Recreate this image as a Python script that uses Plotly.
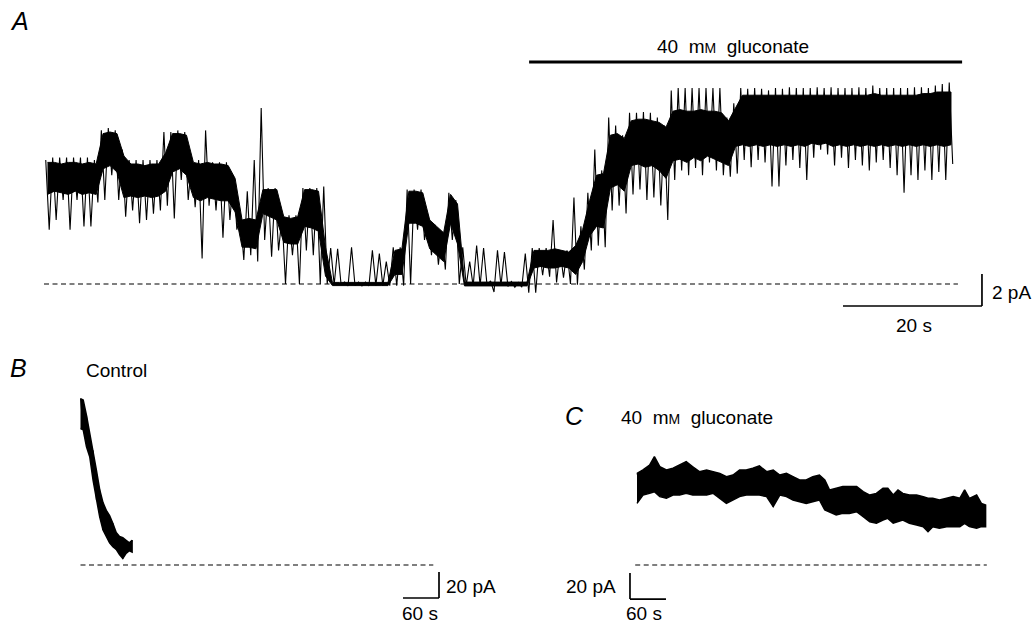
import numpy as np
import plotly.graph_objects as go

# ---------------- Panel A: single-channel record, 1 s bins (pA) ----------------
# extreme excursions within each bin
A_top = [7.75, 7.9, 7.9, 7.9, 7.9, 7.9, 7.9, 7.75, 9.6, 9.75,
         9.6, 8.4, 7.75, 7.75, 7.75, 7.75, 7.75, 9.5, 9.5, 9.6,
         9.5, 7.75, 7.75, 9.6, 7.6, 7.6, 7.6, 6.8, 4.2, 5.8,
         7.75, 11.0, 6.0, 6.0, 4.2, 4.3, 4.3, 6.0, 6.0, 6.0,
         6.1, 2.25, 2.2, 0.12, 2.3, 0.12, 0.12, 2.1, 1.9, 1.4,
         2.3, 2.3, 5.9, 5.9, 5.9, 4.3, 3.7, 3.25, 5.7, 5.25,
         2.3, 1.4, 2.4, 2.25, 0.2, 2.1, 2.0, 0.15, 0.1, 1.9,
         2.25, 2.25, 2.25, 4.0, 2.1, 2.1, 5.4, 3.6, 5.7, 8.4,
         7.1, 10.4, 9.9, 9.3, 10.7, 10.7, 10.75, 10.7, 10.4, 9.9,
         12.1, 12.25, 12.25, 12.25, 12.25, 12.25, 12.25, 12.25, 10.4, 11.3,
         12.25, 12.2, 12.25, 12.2, 12.1, 12.25, 12.2, 12.3, 12.25, 12.25,
         12.25, 12.3, 12.25, 12.3, 12.25, 12.25, 12.25, 12.3, 12.25, 12.4,
         12.25, 12.25, 12.25, 12.25, 12.25, 12.3, 12.3, 12.25, 12.4, 12.5,
         12.6]
A_bot = [3.4, 4.0, 5.25, 3.4, 5.25, 3.6, 3.6, 5.1, 5.25, 6.8,
         5.25, 4.2, 4.6, 3.8, 4.0, 4.4, 4.6, 4.9, 4.1, 6.5,
         5.25, 4.8, 1.6, 4.9, 4.6, 2.9, 4.0, 3.4, 1.5, 1.8,
         1.4, 2.75, 1.7, 2.1, 0.0, 1.8, 0.0, 2.1, 1.8, 0.0,
         0.0, -0.05, -0.05, -0.12, -0.1, -0.12, -0.12, -0.1, -0.1, -0.1,
         -0.1, -0.1, 0.0, 3.4, 2.75, 1.8, 1.2, 0.9, 2.75, 0.0,
         -0.1, -0.12, -0.1, -0.1, -0.5, -0.1, -0.15, -0.2, -0.2, -0.55,
         -0.55, 0.55, 0.45, 0.1, 0.4, 0.0, -0.05, 0.9, 2.1, 2.4,
         2.3, 4.6, 4.9, 4.4, 5.6, 5.9, 5.25, 5.4, 4.9, 4.0,
         6.5, 7.1, 6.8, 7.25, 6.8, 7.6, 7.1, 6.8, 6.7, 6.9,
         7.75, 7.3, 7.75, 7.6, 6.1, 6.1, 7.4, 7.75, 7.25, 6.5,
         7.9, 8.4, 8.1, 7.4, 7.9, 7.25, 7.75, 7.4, 7.1, 7.6,
         7.75, 7.25, 6.8, 5.7, 6.8, 6.5, 7.1, 6.5, 7.0, 6.5,
         7.5]
# dense core of the noise band within each bin
A_core_hi = [7.6, 7.6, 7.5, 7.6, 7.6, 7.5, 7.6, 7.5, 9.4, 9.5,
             9.4, 8.0, 7.5, 7.5, 7.4, 7.5, 7.5, 8.2, 9.4, 9.4,
             9.3, 7.6, 7.5, 7.6, 7.5, 7.5, 7.4, 6.6, 4.0, 4.1,
             4.0, 5.9, 5.9, 5.9, 4.2, 4.1, 4.2, 5.9, 5.9, 5.8,
             2.3, 0.1, 0.1, 0.1, 0.1, 0.1, 0.1, 0.1, 0.1, 0.1,
             2.1, 2.2, 5.8, 5.8, 5.7, 4.0, 3.6, 3.2, 5.6, 5.0,
             0.12, 0.12, 0.12, 0.12, 0.12, 0.12, 0.12, 0.12, 0.12, 0.12,
             2.1, 2.1, 2.1, 2.2, 2.1, 2.0, 2.4, 3.4, 5.2, 6.8,
             6.9, 9.3, 9.4, 9.1, 10.2, 10.3, 10.3, 10.2, 10.1, 9.8,
             10.8, 10.9, 10.8, 10.8, 10.9, 10.8, 10.8, 10.7, 10.2, 11.0,
             11.8, 11.8, 11.8, 11.8, 11.8, 11.8, 11.8, 11.8, 11.8, 11.8,
             11.8, 11.8, 11.8, 11.8, 11.8, 11.8, 11.8, 11.8, 11.8, 11.9,
             11.8, 11.8, 11.8, 11.8, 11.8, 11.8, 11.9, 11.9, 12.0, 12.0,
             12.0]
A_core_lo = [5.6, 5.8, 5.7, 5.6, 5.8, 5.6, 5.7, 5.6, 7.2, 7.4,
             7.0, 5.4, 5.5, 5.4, 5.5, 5.4, 5.5, 5.8, 7.0, 7.2,
             6.8, 5.4, 5.2, 5.4, 5.3, 5.2, 5.2, 4.5, 2.3, 2.3,
             2.2, 4.4, 4.2, 4.0, 2.6, 2.5, 2.5, 3.6, 3.5, 3.3,
             0.5, -0.1, -0.1, -0.1, -0.1, -0.1, -0.1, -0.1, -0.1, -0.1,
             0.6, 0.6, 3.8, 3.8, 3.6, 2.2, 1.8, 1.4, 3.8, 2.5,
             -0.12, -0.12, -0.12, -0.12, -0.12, -0.12, -0.12, -0.12, -0.12, -0.12,
             1.0, 1.1, 1.0, 1.0, 1.1, 1.0, 0.6, 1.4, 3.0, 3.6,
             3.5, 6.0, 6.2, 5.8, 7.4, 7.5, 7.3, 7.4, 7.1, 6.6,
             7.7, 7.8, 7.6, 7.9, 7.7, 8.0, 7.8, 7.6, 7.4, 8.6,
             8.7, 8.6, 8.7, 8.6, 8.7, 8.6, 8.7, 8.6, 8.7, 8.6,
             8.8, 8.7, 8.8, 8.6, 8.7, 8.6, 8.7, 8.6, 8.7, 8.6,
             8.7, 8.6, 8.7, 8.6, 8.7, 8.6, 8.7, 8.6, 8.7, 8.6,
             8.7]
A_t = np.arange(len(A_top)) * 1.0  # bin start times (s), 1 s bins

# ---------------- Panel B: Control whole-cell current (pA) ----------------
B_t = [0, 4.5, 10, 15.5, 21, 26.5, 32, 37.5, 43, 48.5, 54, 59.5, 65, 70.5, 76, 81.5, 86]
B_hi = [128, 127, 115, 102, 88, 73, 58, 48, 42, 38, 32, 25, 22, 21, 19, 17, 19]
B_lo = [105, 104, 91, 83, 65, 50, 37, 27, 22, 17, 14, 12, 8, 5, 9, 11, 10]

# ---------------- Panel C: 40 mM gluconate whole-cell current (pA) ----------------
C_t = [0, 10, 21, 29, 38, 49, 60, 71, 82, 93, 104, 116, 127, 138, 149, 160, 171, 182, 193,
       204, 216, 227, 238, 249, 260, 271, 282, 293, 304, 313, 321, 332, 343, 354, 366, 377,
       388, 399, 410, 418, 427, 435, 443, 454, 466, 477, 485, 493, 504, 516, 527, 538, 546,
       554, 566, 574, 581]
C_hi = [70.5, 73.1, 76.9, 83.3, 75.6, 73.1, 74.4, 76.9, 79.5, 75.6, 71.8, 73.1, 71.8, 70.5,
        67.9, 69.2, 73.1, 73.1, 74.4, 76.2, 71.8, 73.1, 69.2, 70.5, 67.9, 65.4, 65.4, 67.9,
        69.2, 65.4, 57.7, 59.0, 60.3, 60.3, 60.3, 56.4, 53.8, 55.1, 59.0, 59.0, 53.8, 57.7,
        55.1, 53.8, 53.8, 52.6, 51.3, 51.3, 50.0, 51.3, 52.6, 51.3, 57.7, 51.3, 53.8, 47.4, 46.2]
C_lo = [47.4, 53.8, 55.1, 56.4, 52.6, 51.3, 53.8, 53.8, 55.1, 53.8, 53.8, 53.8, 55.1, 51.3,
        47.4, 50.0, 52.6, 53.8, 53.8, 53.8, 52.6, 44.9, 53.8, 52.6, 50.0, 48.7, 47.4, 48.7,
        50.0, 42.3, 41.0, 38.5, 39.7, 39.7, 41.0, 37.2, 33.3, 32.1, 34.6, 35.9, 32.1, 33.3,
        34.6, 32.1, 30.8, 29.5, 25.6, 29.5, 28.2, 29.5, 29.5, 29.5, 32.1, 29.5, 28.2, 29.5, 29.5]

# Scale-bar sizes (data units)
A_bar_s, A_bar_pA = 20, 2
BC_bar_s, BC_bar_pA = 60, 20

W, H = 1033, 623
FONT = "Liberation Sans, Arial, Helvetica, sans-serif"

fig = go.Figure()

# ---- A: dense core band (filled) + excursions (zigzag between extremes)
tc = [t + 0.5 for t in A_t]
fig.add_trace(go.Scatter(x=tc + tc[::-1], y=A_core_hi + A_core_lo[::-1], mode="lines",
                         fill="toself", fillcolor="black", line=dict(color="black", width=1.0),
                         xaxis="x", yaxis="y", hoverinfo="skip"))
zx, zy = [], []
for t, h, l in zip(A_t, A_top, A_bot):
    zx += [t + 0.25, t + 0.75]
    zy += [h, l]
fig.add_trace(go.Scatter(x=zx, y=zy, mode="lines", line=dict(color="black", width=1.1),
                         xaxis="x", yaxis="y", hoverinfo="skip"))


# ---- B and C: filled noise bands
def band(t, hi, lo, xa, ya):
    xs = list(t) + list(t[::-1])
    ys = list(hi) + list(lo[::-1])
    fig.add_trace(go.Scatter(x=xs, y=ys, mode="lines", fill="toself", fillcolor="black",
                             line=dict(color="black", width=1.5), xaxis=xa, yaxis=ya,
                             hoverinfo="skip"))
    zx, zy = [], []
    for i in range(len(t)):
        zx += [t[i]]
        zy += [hi[i] if i % 2 == 0 else lo[i]]
    fig.add_trace(go.Scatter(x=zx, y=zy, mode="lines", line=dict(color="black", width=1.0),
                             xaxis=xa, yaxis=ya, hoverinfo="skip"))


band(B_t, B_hi, B_lo, "x2", "y2")
band(C_t, C_hi, C_lo, "x3", "y3")

# ---- dashed zero-current lines
dash = dict(color="black", width=1.2, dash="5px,3.5px")
fig.add_shape(type="line", xref="x", yref="y", x0=0, x1=131.5, y0=0, y1=0, line=dash)
fig.add_shape(type="line", xref="x2", yref="y2", x0=0, x1=588, y0=0, y1=0, line=dash)
fig.add_shape(type="line", xref="x3", yref="y3", x0=-3, x1=583, y0=0, y1=0, line=dash)

solid = dict(color="black", width=1.7)
# A scale bar
ax_end, ay_bot = 134.96, -1.375
fig.add_shape(type="line", xref="x", yref="y", x0=ax_end, x1=ax_end, y0=ay_bot, y1=ay_bot + A_bar_pA, line=solid)
fig.add_shape(type="line", xref="x", yref="y", x0=ax_end - A_bar_s, x1=ax_end, y0=ay_bot, y1=ay_bot, line=solid)
# gluconate application bar
fig.add_shape(type="line", xref="x", yref="y", x0=69.8, x1=132.1, y0=13.875, y1=13.875,
              line=dict(color="black", width=3))
# B scale bar
bx_end, by_bot = 597.5, -25.4
fig.add_shape(type="line", xref="x2", yref="y2", x0=bx_end, x1=bx_end, y0=by_bot, y1=by_bot + BC_bar_pA, line=solid)
fig.add_shape(type="line", xref="x2", yref="y2", x0=bx_end - BC_bar_s, x1=bx_end, y0=by_bot, y1=by_bot, line=solid)
# C scale bar
cx0, cy_bot = -11.7, -26.2
fig.add_shape(type="line", xref="x3", yref="y3", x0=cx0, x1=cx0, y0=cy_bot, y1=cy_bot + BC_bar_pA, line=solid)
fig.add_shape(type="line", xref="x3", yref="y3", x0=cx0, x1=cx0 + BC_bar_s, y0=cy_bot, y1=cy_bot, line=solid)


def px(x):
    return x / W


def py(y):
    return 1 - y / H


def text(s, x, y, xanchor="left", size=19, italic=False):
    fig.add_annotation(text=(f"<i>{s}</i>" if italic else s), x=px(x), y=py(y), xref="paper", yref="paper",
                       xanchor=xanchor, yanchor="middle", showarrow=False,
                       font=dict(family=FONT, size=size, color="black"))


gl = '40  m<span style="font-size:14px">M</span>  gluconate'
text("A", 8, 21, size=25, italic=True)
text(gl, 733, 46, xanchor="center")
text("2 pA", 990, 292)
text("20 s", 914, 325, xanchor="center")
text("B", 8, 368, size=25, italic=True)
text("Control", 84, 370)
text("20 pA", 444, 586)
text("60 s", 400, 613)
text("C", 563, 416, size=25, italic=True)
text(gl, 619, 417)
text("20 pA", 618, 586, xanchor="right")
text("60 s", 624, 613)


def axis(rng):
    return dict(range=rng, domain=[0, 1], visible=False, showgrid=False, zeroline=False, fixedrange=True)


fig.update_layout(
    width=W, height=H, autosize=False,
    margin=dict(l=0, r=0, t=0, b=0),
    paper_bgcolor="white", plot_bgcolor="rgba(0,0,0,0)",
    showlegend=False,
    xaxis=axis([-44 / 6.95, (W - 44) / 6.95]),
    yaxis=axis([-(H - 284) / 16, 284 / 16]),
    xaxis2=dict(axis([-80.5 / 0.6, (W - 80.5) / 0.6]), anchor="y2", overlaying="x"),
    yaxis2=dict(axis([-(H - 565) / 1.3, 565 / 1.3]), anchor="x2", overlaying="y"),
    xaxis3=dict(axis([-637 / 0.6, (W - 637) / 0.6]), anchor="y3", overlaying="x"),
    yaxis3=dict(axis([-(H - 565) / 1.3, 565 / 1.3]), anchor="x3", overlaying="y"),
)

fig.write_html("out.html")
